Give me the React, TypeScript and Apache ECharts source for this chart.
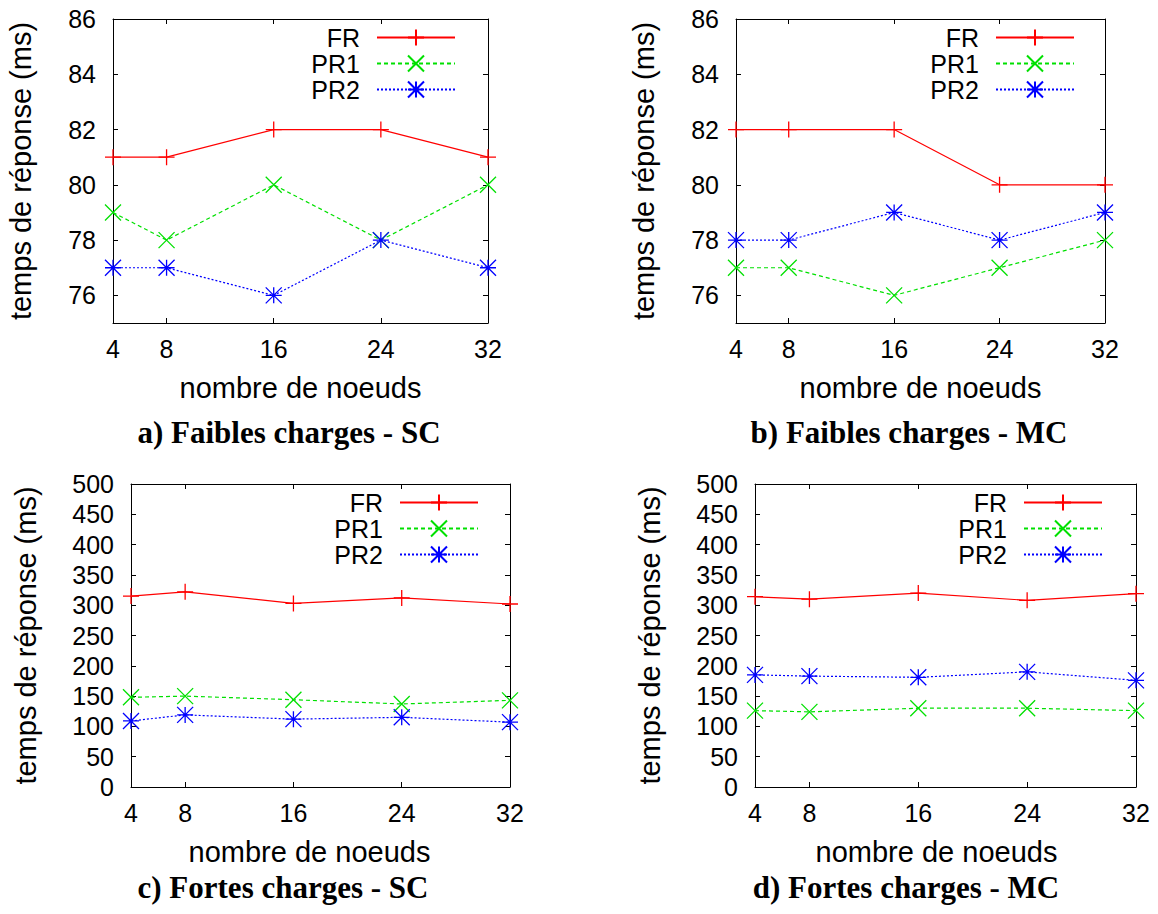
import React, { useEffect, useRef } from "react";
import * as echarts from "echarts";

// Nombre de noeuds (axe des x) et graduations
const NODES = [4, 8, 16, 24, 32];
const X_TICKS = [4, 8, 16, 24, 32];
const Y_TICKS_FAIBLES = [76, 78, 80, 82, 84, 86];

const SERIES_NAMES = ["FR", "PR1", "PR2"];

// a) Faibles charges - SC
const A_FR = [81, 81, 82, 82, 81];
const A_PR1 = [79, 78, 80, 78, 80];
const A_PR2 = [77, 77, 76, 78, 77];

// b) Faibles charges - MC
const B_FR = [82, 82, 82, 80, 80];
const B_PR1 = [77, 77, 76, 77, 78];
const B_PR2 = [78, 78, 79, 78, 79];

// c) Fortes charges - SC
const C_FR = [315, 322, 303, 312, 302];
const C_PR1 = [148, 150, 144, 137, 143];
const C_PR2 = [109, 119, 112, 115, 107];

// d) Fortes charges - MC
const D_FR = [314, 310, 320, 308, 319];
const D_PR1 = [126, 124, 130, 130, 126];
const D_PR2 = [185, 183, 181, 190, 176];

const TITLES = [
  "a) Faibles charges - SC",
  "b) Faibles charges - MC",
  "c) Fortes charges - SC",
  "d) Fortes charges - MC",
];

const SANS = "Liberation Sans";
const SERIF = "Liberation Serif";

const COLORS = ["#ff0000", "#00e000", "#0000ff"];
const LINE_TYPES: any[] = ["solid", [4, 3], [2, 2]];
const SYMBOLS = [
  "path://M0,5L10,5M5,0L5,10",
  "path://M0,0L10,10M10,0L0,10",
  "path://M0,5L10,5M5,0L5,10M0,0L10,10M10,0L0,10",
];

type Panel = {
  grid: { left: number; top: number; width: number; height: number };
  yMin: number;
  yMax: number;
  yInterval?: number;
  yTicks?: number[];
  yNameGap: number;
  xNamePad: number;
  legend: { right: number; top: number };
  title: { x: number; y: number };
  values: number[][];
};

const PANELS: Panel[] = [
  {
    grid: { left: 113, top: 19, width: 375, height: 304 },
    yMin: 75, yMax: 86, yTicks: Y_TICKS_FAIBLES,
    yNameGap: 78, xNamePad: 0,
    legend: { right: 702, top: 25 },
    title: { x: 289, y: 432 },
    values: [A_FR, A_PR1, A_PR2],
  },
  {
    grid: { left: 736, top: 19, width: 369, height: 304 },
    yMin: 75, yMax: 86, yTicks: Y_TICKS_FAIBLES,
    yNameGap: 78, xNamePad: 0,
    legend: { right: 83, top: 25 },
    title: { x: 909, y: 432 },
    values: [B_FR, B_PR1, B_PR2],
  },
  {
    grid: { left: 131, top: 484, width: 379, height: 303 },
    yMin: 0, yMax: 500, yInterval: 50,
    yNameGap: 91, xNamePad: 22,
    legend: { right: 679, top: 490 },
    title: { x: 283, y: 887 },
    values: [C_FR, C_PR1, C_PR2],
  },
  {
    grid: { left: 755, top: 484, width: 381, height: 303 },
    yMin: 0, yMax: 500, yInterval: 50,
    yNameGap: 91, xNamePad: 18,
    legend: { right: 55, top: 490 },
    title: { x: 906, y: 887 },
    values: [D_FR, D_PR1, D_PR2],
  },
];

function buildOption() {
  const grid: any[] = [];
  const xAxis: any[] = [];
  const yAxis: any[] = [];
  const series: any[] = [];
  const legend: any[] = [];
  const graphic: any[] = [];

  const axisLine = { show: true, onZero: false, lineStyle: { color: "#000", width: 1 } };
  const tick = { show: true, inside: true, length: 5, lineStyle: { color: "#000", width: 1 } };

  PANELS.forEach((p, i) => {
    grid.push({ ...p.grid, containLabel: false });

    const xBase = {
      type: "value",
      gridIndex: i,
      min: 4,
      max: 32,
      splitLine: { show: false },
      axisLine,
    };
    xAxis.push({
      ...xBase,
      position: "bottom",
      axisTick: { ...tick, customValues: X_TICKS },
      axisLabel: {
        customValues: X_TICKS,
        margin: 13,
        color: "#000",
        fontFamily: SANS,
        fontSize: 25,
      },
      name: "nombre de noeuds",
      nameLocation: "middle",
      nameGap: 50,
      nameTextStyle: {
        color: "#000",
        fontFamily: SANS,
        fontSize: 29,
        padding: [0, p.xNamePad, 0, 0],
      },
    });
    xAxis.push({
      ...xBase,
      position: "top",
      axisTick: { ...tick, customValues: X_TICKS },
      axisLabel: { show: false },
    });

    const yBase: any = {
      type: "value",
      gridIndex: i,
      min: p.yMin,
      max: p.yMax,
      splitLine: { show: false },
      axisLine,
    };
    if (p.yInterval) yBase.interval = p.yInterval;
    const tickCfg: any = { ...tick };
    const labelCfg: any = {
      margin: 17,
      color: "#000",
      fontFamily: SANS,
      fontSize: 25,
    };
    if (p.yTicks) {
      tickCfg.customValues = p.yTicks;
      labelCfg.customValues = p.yTicks;
    }
    yAxis.push({
      ...yBase,
      position: "left",
      axisTick: tickCfg,
      axisLabel: labelCfg,
      name: "temps de réponse (ms)",
      nameLocation: "middle",
      nameGap: p.yNameGap,
      nameTextStyle: { color: "#000", fontFamily: SANS, fontSize: 29 },
    });
    yAxis.push({
      ...yBase,
      position: "right",
      axisTick: tickCfg,
      axisLabel: { show: false },
    });

    SERIES_NAMES.forEach((name, k) => {
      series.push({
        type: "line",
        name,
        xAxisIndex: i * 2,
        yAxisIndex: i * 2,
        data: NODES.map((n, j) => [n, p.values[k][j]]),
        symbol: SYMBOLS[k],
        symbolSize: 16,
        showAllSymbol: true,
        clip: false,
        lineStyle: { color: COLORS[k], width: 1.2, type: LINE_TYPES[k] },
        itemStyle: { color: COLORS[k], borderColor: COLORS[k], borderWidth: 1.3 },
        emphasis: { disabled: true },
      });
    });

    legend.push({
      orient: "vertical",
      align: "right",
      right: p.legend.right,
      top: p.legend.top,
      padding: 0,
      itemWidth: 78,
      itemHeight: 20,
      itemGap: 1,
      selectedMode: false,
      data: SERIES_NAMES,
      textStyle: {
        color: "#000",
        fontFamily: SANS,
        fontSize: 25,
        padding: [0, 12, 0, 0],
      },
    });

    graphic.push({
      type: "text",
      x: p.title.x,
      y: p.title.y,
      style: {
        text: TITLES[i],
        fill: "#000",
        fontFamily: SERIF,
        fontWeight: "bold",
        fontSize: 31,
        align: "center",
        verticalAlign: "middle",
      },
    });
  });

  return {
    animation: false,
    backgroundColor: "#fff",
    grid,
    xAxis,
    yAxis,
    series,
    legend,
    graphic,
  };
}

export default function App() {
  const ref = useRef<HTMLDivElement>(null);

  useEffect(() => {
    if (!ref.current) return;
    const chart = echarts.init(ref.current, null, { renderer: "svg" });
    chart.setOption(buildOption() as any);
    return () => chart.dispose();
  }, []);

  return (
    <div
      ref={ref}
      style={{
        position: "absolute",
        left: 0,
        top: 0,
        width: 1158,
        height: 914,
        background: "#fff",
      }}
    />
  );
}
